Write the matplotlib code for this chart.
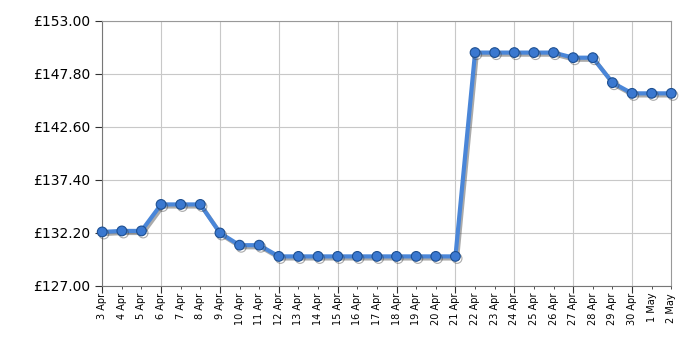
import matplotlib
matplotlib.use("Agg")
import matplotlib.pyplot as plt
import matplotlib.patheffects as pe
import numpy as np

# Data
dates = ["3 Apr", "4 Apr", "5 Apr", "6 Apr", "7 Apr", "8 Apr", "9 Apr", "10 Apr",
         "11 Apr", "12 Apr", "13 Apr", "14 Apr", "15 Apr", "16 Apr", "17 Apr",
         "18 Apr", "19 Apr", "20 Apr", "21 Apr", "22 Apr", "23 Apr", "24 Apr",
         "25 Apr", "26 Apr", "27 Apr", "28 Apr", "29 Apr", "30 Apr", "1 May", "2 May"]
prices = [132.30, 132.40, 132.40, 135.00, 135.00, 135.00, 132.20, 131.00,
          131.00, 129.90, 129.90, 129.90, 129.90, 129.90, 129.90,
          129.90, 129.90, 129.90, 129.90, 149.90, 149.90, 149.90,
          149.90, 149.90, 149.40, 149.40, 146.95, 145.90, 145.90, 145.90]
y_ticks = [127.00, 132.20, 137.40, 142.60, 147.80, 153.00]

x = np.arange(len(dates))

fig = plt.figure(figsize=(7, 3.5), dpi=100)
ax = fig.add_axes([0.146, 0.183, 0.813, 0.757])

shadow = [pe.SimpleLineShadow(offset=(1.2, -1.5), shadow_color="#444444", alpha=0.45), pe.Normal()]
ax.plot(x, prices, color="#4a86d8", linewidth=3, marker="o", markersize=7,
        markerfacecolor="#3a78d0", markeredgecolor="#1d4f91", markeredgewidth=0.8,
        path_effects=shadow, zorder=3, clip_on=False)

ax.set_xlim(0, len(dates) - 1)
ax.set_ylim(127, 153)
ax.set_yticks(y_ticks)
ax.set_yticklabels(["£%.2f" % v for v in y_ticks], fontsize=10)

# major ticks every 3 days carry the grid, minor ticks carry the labels
ax.xaxis.remove_overlapping_locs = False
ax.set_xticks(x[::3])
ax.set_xticklabels([])
ax.set_xticks(x, minor=True)
ax.set_xticklabels(dates, minor=True, rotation=90, fontsize=7)
ax.tick_params(axis="x", which="major", length=5, color="#333333")
ax.tick_params(axis="x", which="minor", length=2, color="#333333", pad=3)
ax.tick_params(axis="y", length=5, color="#333333")

ax.grid(True, which="major", color="#c8c8c8", linewidth=0.8)
ax.set_axisbelow(True)
for s in ax.spines.values():
    s.set_color("#999999")
ax.spines["bottom"].set_color("#777777")
ax.spines["left"].set_color("#777777")

fig.savefig("out.png", dpi=100)
